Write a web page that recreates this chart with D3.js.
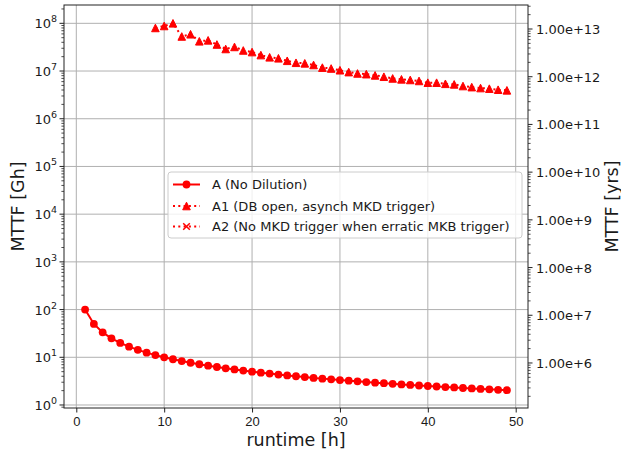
<!DOCTYPE html>
<html>
<head>
<meta charset="utf-8">
<script src="https://cdn.jsdelivr.net/npm/d3@7/dist/d3.min.js"></script>
<style>
  html, body { margin: 0; padding: 0; background: #fff; }
  svg { display: block; font-family: "DejaVu Sans", sans-serif; }
</style>
</head>
<body>
<svg id="chart" width="621" height="453"></svg>
<script>
// Runtime in hours for each measurement
const runtimeA = [1,2,3,4,5,6,7,8,9,10,11,12,13,14,15,16,17,18,19,20,21,22,23,24,25,
  26,27,28,29,30,31,32,33,34,35,36,37,38,39,40,41,42,43,44,45,46,47,48,49];
// MTTF [Gh] without dilution
const mttfA = [100,50,33.3,25,20,16.7,14.3,12.5,11.1,10,9.09,8.33,7.69,7.14,6.67,6.25,
  5.88,5.56,5.26,5,4.76,4.55,4.35,4.17,4,3.85,3.7,3.57,3.45,3.33,3.23,3.13,3.03,2.94,
  2.86,2.78,2.7,2.63,2.56,2.5,2.44,2.38,2.33,2.27,2.22,2.17,2.13,2.08,2.04];

const runtimeA1 = [9,10,11,12,13,14,15,16,17,18,19,20,21,22,23,24,25,26,27,28,29,30,
  31,32,33,34,35,36,37,38,39,40,41,42,43,44,45,46,47,48,49];
// MTTF [Gh] with DB open, asynchronous MKD trigger
const mttfA1 = [8.0e7,8.8e7,1.0e8,5.3e7,5.9e7,4.2e7,4.4e7,3.6e7,2.9e7,3.2e7,2.7e7,2.5e7,
  2.16e7,1.94e7,1.85e7,1.64e7,1.49e7,1.45e7,1.34e7,1.18e7,1.13e7,1.04e7,9.5e6,8.9e6,
  8.6e6,8.1e6,7.6e6,7.0e6,6.7e6,6.5e6,6.2e6,5.7e6,5.7e6,5.4e6,5.25e6,4.85e6,4.6e6,
  4.4e6,4.27e6,4.06e6,3.94e6];

// No points for A2 in this run
const runtimeA2 = [];
const mttfA2 = [];

const seriesNames = [
  "A (No Dilution)",
  "A1 (DB open, asynch MKD trigger)",
  "A2 (No MKD trigger when erratic MKB trigger)"
];

const xTicks = [0, 10, 20, 30, 40, 50];
const leftTickExps = [0, 1, 2, 3, 4, 5, 6, 7, 8];
const rightTickValues = [1e6, 1e7, 1e8, 1e9, 1e10, 1e11, 1e12, 1e13];

// conversion of Gh to years used on the secondary axis
const yrsPerGh = 1.316e5;

const W = 621, H = 453;
const margin = { left: 64, top: 5, right: 93, bottom: 45 };
const svg = d3.select("#chart");
const plotW = W - margin.left - margin.right;
const plotH = H - margin.top - margin.bottom;
const g = svg.append("g").attr("transform", `translate(${margin.left},${margin.top})`);

const x = d3.scaleLinear().domain([-1.4, 51.4]).range([0, plotW]);
const yMin = Math.pow(10, -0.063), yMax = Math.pow(10, 8.384);
const y = d3.scaleLog().domain([yMin, yMax]).range([plotH, 0]);
const yR = d3.scaleLog().domain([yMin * yrsPerGh, yMax * yrsPerGh]).range([plotH, 0]);

const gridColor = "#b0b0b0";
const textColor = "#1a1a1a";

// grid
g.append("g").selectAll("line").data(xTicks).join("line")
  .attr("x1", d => x(d)).attr("x2", d => x(d))
  .attr("y1", 0).attr("y2", plotH)
  .attr("stroke", gridColor).attr("stroke-width", 1);
g.append("g").selectAll("line").data(leftTickExps).join("line")
  .attr("x1", 0).attr("x2", plotW)
  .attr("y1", d => y(Math.pow(10, d))).attr("y2", d => y(Math.pow(10, d)))
  .attr("stroke", gridColor).attr("stroke-width", 1);

// x axis
const xAxis = g.append("g").attr("transform", `translate(0,${plotH})`)
  .call(d3.axisBottom(x).tickValues(xTicks).tickSize(4.5).tickPadding(4).tickFormat(d3.format("d")));
xAxis.select(".domain").remove();
xAxis.selectAll("text").attr("font-size", 13).attr("fill", textColor);
xAxis.selectAll("line").attr("stroke", "#222");

// left y axis: major ticks with superscript labels
const minorLeft = [];
for (let e = -1; e <= 8; e++) for (let m = 2; m <= 9; m++) {
  const v = m * Math.pow(10, e);
  if (v >= yMin && v <= yMax) minorLeft.push(v);
}
const yl = g.append("g");
yl.selectAll("line.minor").data(minorLeft).join("line").attr("class", "minor")
  .attr("x1", -2.6).attr("x2", 0)
  .attr("y1", d => y(d)).attr("y2", d => y(d))
  .attr("stroke", "#222").attr("stroke-width", 0.8);
yl.selectAll("line.major").data(leftTickExps).join("line").attr("class", "major")
  .attr("x1", -4.5).attr("x2", 0)
  .attr("y1", d => y(Math.pow(10, d))).attr("y2", d => y(Math.pow(10, d)))
  .attr("stroke", "#222").attr("stroke-width", 1);
const ylab = yl.selectAll("text").data(leftTickExps).join("text")
  .attr("x", -7).attr("y", d => y(Math.pow(10, d)) + 5)
  .attr("text-anchor", "end").attr("font-size", 13).attr("fill", textColor);
ylab.append("tspan").text("10");
ylab.append("tspan").attr("dy", -6).attr("font-size", 9.5).text(d => d);

// right y axis
const minorRight = [];
for (let e = 5; e <= 13; e++) for (let m = 2; m <= 9; m++) {
  const v = m * Math.pow(10, e);
  if (v >= yR.domain()[0] && v <= yR.domain()[1]) minorRight.push(v);
}
const yr = g.append("g").attr("transform", `translate(${plotW},0)`);
yr.selectAll("line.minor").data(minorRight).join("line").attr("class", "minor")
  .attr("x1", 0).attr("x2", 2.6)
  .attr("y1", d => yR(d)).attr("y2", d => yR(d))
  .attr("stroke", "#222").attr("stroke-width", 0.8);
yr.selectAll("line.major").data(rightTickValues).join("line").attr("class", "major")
  .attr("x1", 0).attr("x2", 4.5)
  .attr("y1", d => yR(d)).attr("y2", d => yR(d))
  .attr("stroke", "#222").attr("stroke-width", 1);
yr.selectAll("text").data(rightTickValues).join("text")
  .attr("x", 8).attr("y", d => yR(d) + 5)
  .attr("font-size", 13).attr("fill", textColor)
  .text(d => d3.format(".2e")(d));

// axis titles
svg.append("text").attr("transform", `translate(24,${margin.top + plotH / 2}) rotate(-90)`)
  .attr("text-anchor", "middle").attr("font-size", 17.5).attr("fill", textColor).text("MTTF [Gh]");
svg.append("text").attr("transform", `translate(618,${margin.top + plotH / 2}) rotate(-90)`)
  .attr("text-anchor", "middle").attr("font-size", 17.5).attr("fill", textColor).text("MTTF [yrs]");
svg.append("text").attr("x", margin.left + x(25)).attr("y", 446)
  .attr("text-anchor", "middle").attr("font-size", 17.5).attr("fill", textColor).text("runtime [h]");

// series
const red = "#ff0000";
const clip = g.append("clipPath").attr("id", "clip").append("rect")
  .attr("width", plotW).attr("height", plotH);
const plot = g.append("g").attr("clip-path", "url(#clip)");
const line = d3.line().x(d => x(d[0])).y(d => y(d[1]));
const triPath = r => `M0,${-r}L${r},${r}L${-r},${r}Z`;
const xPath = r => `M${-r},${-r}L${r},${r}M${-r},${r}L${r},${-r}`;

const dataA = d3.zip(runtimeA, mttfA);
const dataA1 = d3.zip(runtimeA1, mttfA1);
const dataA2 = d3.zip(runtimeA2, mttfA2);

plot.append("path").datum(dataA).attr("d", line)
  .attr("fill", "none").attr("stroke", red).attr("stroke-width", 2);
plot.append("g").selectAll("circle").data(dataA).join("circle")
  .attr("cx", d => x(d[0])).attr("cy", d => y(d[1])).attr("r", 3.9).attr("fill", red);

plot.append("path").datum(dataA1).attr("d", line)
  .attr("fill", "none").attr("stroke", red).attr("stroke-width", 2).attr("stroke-dasharray", "2,3.3");
plot.append("g").selectAll("path").data(dataA1).join("path")
  .attr("transform", d => `translate(${x(d[0])},${y(d[1])})`)
  .attr("d", triPath(3.8)).attr("fill", red).attr("stroke", red).attr("stroke-width", 1);

if (dataA2.length) {
  plot.append("path").datum(dataA2).attr("d", line)
    .attr("fill", "none").attr("stroke", red).attr("stroke-width", 2).attr("stroke-dasharray", "2,3.3");
  plot.append("g").selectAll("path").data(dataA2).join("path")
    .attr("transform", d => `translate(${x(d[0])},${y(d[1])})`)
    .attr("d", xPath(3.5)).attr("fill", "none").attr("stroke", red).attr("stroke-width", 1.5);
}

// frame
g.append("rect").attr("width", plotW).attr("height", plotH)
  .attr("fill", "none").attr("stroke", "#222").attr("stroke-width", 1);

// legend
const lg = svg.append("g").attr("transform", "translate(168,172)");
lg.append("rect").attr("width", 354).attr("height", 66).attr("rx", 3)
  .attr("fill", "#fff").attr("fill-opacity", 0.8).attr("stroke", "#cccccc").attr("stroke-width", 1);
const rowsY = [12.5, 34, 54.5];
seriesNames.forEach((name, i) => {
  const row = lg.append("g").attr("transform", `translate(0,${rowsY[i]})`);
  row.append("line").attr("x1", 5).attr("x2", 32).attr("y1", 0).attr("y2", 0)
    .attr("stroke", red).attr("stroke-width", 2)
    .attr("stroke-dasharray", i === 0 ? null : "2,3.3");
  if (i === 0) row.append("circle").attr("cx", 18.5).attr("cy", 0).attr("r", 3.9).attr("fill", red);
  else if (i === 1) row.append("path").attr("transform", "translate(18.5,0)")
    .attr("d", triPath(3.8)).attr("fill", red).attr("stroke", red).attr("stroke-width", 1);
  else row.append("path").attr("transform", "translate(18.5,0)")
    .attr("d", xPath(3.3)).attr("fill", "none").attr("stroke", red).attr("stroke-width", 1.5);
  row.append("text").attr("x", 44).attr("y", 4.8).attr("font-size", 13)
    .attr("fill", textColor).text(name);
});
</script>
</body>
</html>
